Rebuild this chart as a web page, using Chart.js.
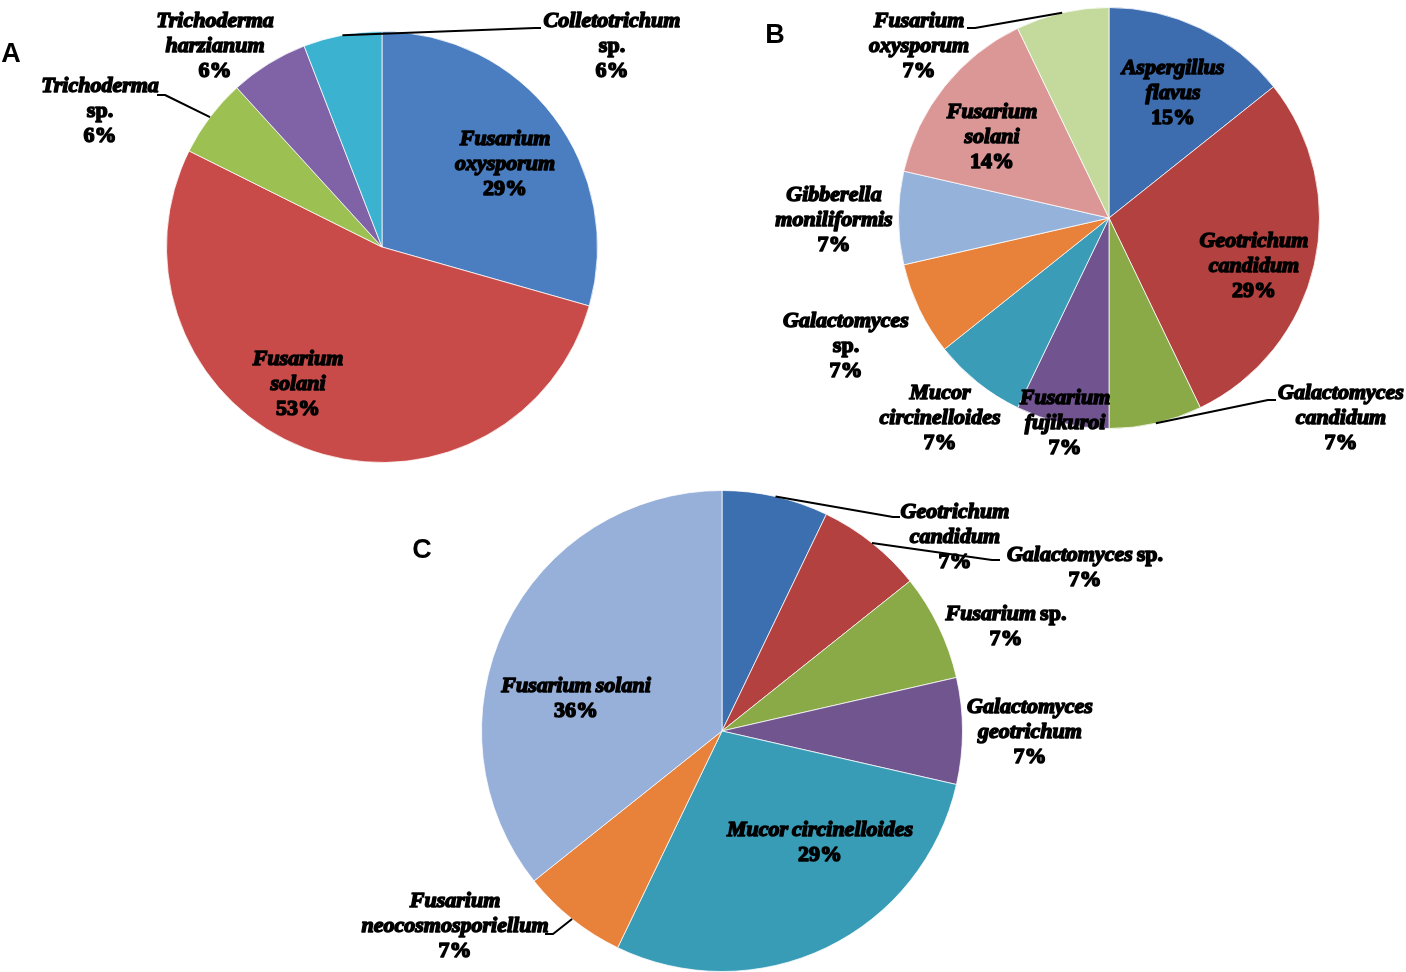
<!DOCTYPE html>
<html>
<head>
<meta charset="utf-8">
<script src="https://cdn.jsdelivr.net/npm/chart.js@4.4.1/dist/chart.umd.min.js"></script>
<style>
html,body{margin:0;padding:0;background:#fff;}
#wrap{position:relative;width:1406px;height:972px;overflow:hidden;background:#fff;}
canvas.cv{position:absolute;left:0;top:0;}
.panel{position:absolute;font:bold 27px "Liberation Sans",Arial,sans-serif;color:#000;line-height:1;transform:translate(-50%,-50%);}
</style>
</head>
<body>
<div id="wrap">
  <canvas id="chartA" class="cv" width="1406" height="972"></canvas>
  <canvas id="chartB" class="cv" width="1406" height="972"></canvas>
  <canvas id="chartC" class="cv" width="1406" height="972"></canvas>
  <div class="panel" style="left:11px;top:53px">A</div>
  <div class="panel" style="left:775px;top:34px">B</div>
  <div class="panel" style="left:422px;top:549px">C</div>
</div>
<script>
// ---------------- DATA ----------------
// Panel A (17 isolates)
const categoriesA = ["Fusarium oxysporum", "Fusarium solani", "Trichoderma sp.", "Trichoderma harzianum", "Colletotrichum sp."];
const valuesA = [5, 9, 1, 1, 1];
const percentLabelsA = ["29%", "53%", "6%", "6%", "6%"];

// Panel B (14 isolates)
const categoriesB = ["Aspergillus flavus", "Geotrichum candidum", "Galactomyces candidum", "Fusarium fujikuroi", "Mucor circinelloides", "Galactomyces sp.", "Gibberella moniliformis", "Fusarium solani", "Fusarium oxysporum"];
const valuesB = [2, 4, 1, 1, 1, 1, 1, 2, 1];
const percentLabelsB = ["15%", "29%", "7%", "7%", "7%", "7%", "7%", "14%", "7%"];

// Panel C (14 isolates)
const categoriesC = ["Geotrichum candidum", "Galactomyces sp.", "Fusarium sp.", "Galactomyces geotrichum", "Mucor circinelloides", "Fusarium neocosmosporiellum", "Fusarium solani"];
const valuesC = [1, 1, 1, 1, 4, 1, 5];
const percentLabelsC = ["7%", "7%", "7%", "7%", "29%", "7%", "36%"];

// ---------------- STYLE / LAYOUT ----------------
const colorsA = ["#4A7EC0", "#C94B49", "#9CC152", "#8062A7", "#3AB2D0"];
const colorsB = ["#3D6DAF", "#B3413F", "#8AAA48", "#70538F", "#3A9CB7", "#E8823A", "#95B2DA", "#DB9795", "#C4DA9C"];
const colorsC = ["#3C6FAF", "#B3413F", "#8AAA48", "#71558F", "#399CB7", "#E8823A", "#97B0D9"];

// break the category name after the first word?
const wrapA = [true, true, true, true, true];
const wrapB = [true, true, true, true, true, true, true, true, true];
const wrapC = [true, false, false, true, false, true, false];

// label centre offsets from pie centre (px), first line
const labelPosA = [[123,-108],[-84,112],[-282,-161],[-167,-226],[230,-226]];
const labelPosB = [[64,-150],[145,23],[232,175],[-44,180],[-169,175],[-263,103],[-275,-23],[-117,-106],[-190,-197]];
const labelPosC = [[233,-219],[363,-176],[284,-117],[308,-24],[98,99],[-267,170],[-146,-45]];

// leader lines: [elbowX, elbowY, endX, endY] offsets from centre
const leadersA = [null, null, [-217,-152,-225,-152], null, [153,-219,159,-219]];
const leadersB = [null, null, [159,182,167,182], null, null, null, null, null, [-134,-190,-142,-190]];
const leadersC = [[171,-214,178,-214],[270,-171,278,-171], null, null, null, [-169,203,-177,203], null];

const pieGeom = { A:{cx:382, cy:247, r:216}, B:{cx:1109, cy:218, r:211}, C:{cx:722, cy:731, r:241} };

const W = 1406, H = 972, LINE_H = 25, FONT_PX = 22;

function drawMixedLine(ctx, text, cx, cy) {
  const tokens = text.split(' ');
  const fonts = tokens.map(t => (t === 'sp.' || /%$/.test(t)) ?
      `bold ${FONT_PX}px "Liberation Serif", "Times New Roman", serif` :
      `italic bold ${FONT_PX}px "Liberation Serif", "Times New Roman", serif`);
  const gap = 4;
  const widths = tokens.map((t, i) => { ctx.font = fonts[i]; return ctx.measureText(t).width; });
  const total = widths.reduce((a, b) => a + b, 0) + gap * (tokens.length - 1);
  let x = cx - total / 2;
  tokens.forEach((t, i) => {
    ctx.font = fonts[i];
    ctx.textAlign = 'left';
    ctx.textBaseline = 'middle';
    ctx.fillStyle = '#000';
    ctx.strokeStyle = '#000';
    ctx.lineJoin = 'round';
    ctx.lineWidth = 1.5;
    ctx.fillText(t, x, cy);
    ctx.strokeText(t, x, cy);
    x += widths[i] + gap;
  });
}

function makeLabelPlugin(cats, pcts, wrap, pos, leaders) {
  return {
    id: 'sliceLabels',
    afterDraw(chart) {
      const ctx = chart.ctx;
      const meta = chart.getDatasetMeta(0);
      ctx.save();
      meta.data.forEach((arc, i) => {
        const p = arc.getProps(['x', 'y', 'outerRadius', 'startAngle', 'endAngle'], true);
        const mid = (p.startAngle + p.endAngle) / 2;
        const L = leaders[i];
        if (L) {
          ctx.beginPath();
          ctx.strokeStyle = '#000';
          ctx.lineWidth = 2;
          ctx.moveTo(p.x + Math.cos(mid) * p.outerRadius, p.y + Math.sin(mid) * p.outerRadius);
          ctx.lineTo(p.x + L[0], p.y + L[1]);
          ctx.lineTo(p.x + L[2], p.y + L[3]);
          ctx.stroke();
        }
        const name = cats[i];
        let lines;
        if (wrap[i]) {
          const k = name.indexOf(' ');
          lines = [name.slice(0, k), name.slice(k + 1)];
        } else {
          lines = [name];
        }
        lines.push(pcts[i]);
        const lx = p.x + pos[i][0], ly = p.y + pos[i][1];
        lines.forEach((ln, k) => drawMixedLine(ctx, ln, lx, ly + k * LINE_H));
      });
      ctx.restore();
    }
  };
}

function makePie(id, g, cats, vals, cols, pcts, wrap, pos, leaders) {
  new Chart(document.getElementById(id), {
    type: 'pie',
    data: {
      labels: cats,
      datasets: [{
        data: vals,
        backgroundColor: cols,
        borderColor: 'rgba(255,255,255,0.75)',
        borderWidth: 1
      }]
    },
    options: {
      responsive: false,
      animation: false,
      events: [],
      layout: { padding: { left: g.cx - g.r, top: g.cy - g.r, right: W - g.cx - g.r, bottom: H - g.cy - g.r } },
      plugins: { legend: { display: false }, tooltip: { enabled: false } }
    },
    plugins: [makeLabelPlugin(cats, pcts, wrap, pos, leaders)]
  });
}

makePie('chartA', pieGeom.A, categoriesA, valuesA, colorsA, percentLabelsA, wrapA, labelPosA, leadersA);
makePie('chartB', pieGeom.B, categoriesB, valuesB, colorsB, percentLabelsB, wrapB, labelPosB, leadersB);
makePie('chartC', pieGeom.C, categoriesC, valuesC, colorsC, percentLabelsC, wrapC, labelPosC, leadersC);
</script>
</body>
</html>
